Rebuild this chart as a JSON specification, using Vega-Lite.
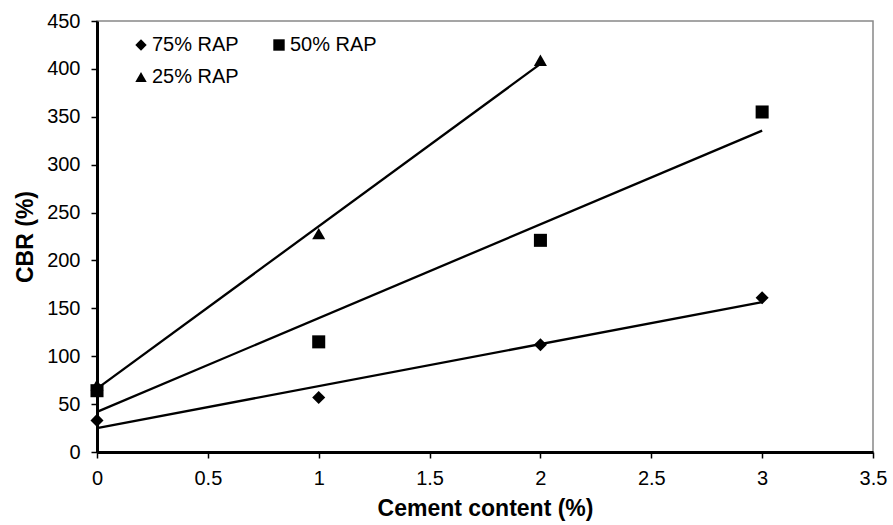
{
  "$schema": "https://vega.github.io/schema/vega-lite/v6.json",
  "width": 776,
  "height": 431,
  "autosize": "none",
  "padding": {"left": 97, "top": 21, "right": 20, "bottom": 73},
  "background": "white",
  "config": {
    "font": "Liberation Sans",
    "view": {"stroke": "#888888", "strokeWidth": 1.5},
    "axis": {"grid": false, "domainColor": "black", "tickColor": "black", "labelColor": "black", "titleColor": "black"}
  },
  "data": {
    "values": [
      {"mix": "75% RAP", "cement": 0, "CBR": 33},
      {"mix": "75% RAP", "cement": 1, "CBR": 57},
      {"mix": "75% RAP", "cement": 2, "CBR": 112},
      {"mix": "75% RAP", "cement": 3, "CBR": 161},
      {"mix": "25% RAP", "cement": 0, "CBR": 70},
      {"mix": "25% RAP", "cement": 1, "CBR": 228},
      {"mix": "25% RAP", "cement": 2, "CBR": 409},
      {"mix": "50% RAP", "cement": 0, "CBR": 64},
      {"mix": "50% RAP", "cement": 1, "CBR": 115},
      {"mix": "50% RAP", "cement": 2, "CBR": 221},
      {"mix": "50% RAP", "cement": 3, "CBR": 355}
    ]
  },
  "encoding": {
    "x": {
      "field": "cement", "type": "quantitative",
      "scale": {"domain": [0, 3.5], "nice": false, "zero": true},
      "axis": {"values": [0, 0.5, 1, 1.5, 2, 2.5, 3, 3.5], "format": "~g", "title": "Cement content (%)", "titleFontSize": 23, "titleFontWeight": "bold", "titlePadding": 9, "labelFontSize": 20, "labelPadding": 10, "tickSize": 6, "tickWidth": 1.5, "domainWidth": 3, "labelFlush": false}
    },
    "y": {
      "field": "CBR", "type": "quantitative",
      "scale": {"domain": [0, 450], "nice": false},
      "axis": {"values": [0, 50, 100, 150, 200, 250, 300, 350, 400, 450], "title": "CBR (%)", "titleFontSize": 23, "titleFontWeight": "bold", "titlePadding": 9, "labelFontSize": 20, "labelPadding": 11, "tickSize": 6, "tickWidth": 1.5, "domainWidth": 3}
    }
  },
  "layer": [
    {
      "transform": [
        {"regression": "CBR", "on": "cement", "groupby": ["mix"]}
      ],
      "mark": {"type": "line", "color": "black", "strokeWidth": 2.3},
      "encoding": {
        "detail": {"field": "mix", "type": "nominal"}
      }
    },
    {
      "mark": {"type": "point", "filled": true, "opacity": 1, "size": 170},
      "encoding": {
        "shape": {
          "field": "mix", "type": "nominal",
          "scale": {"domain": ["75% RAP", "50% RAP", "25% RAP"], "range": ["diamond", "square", "triangle-up"]},
          "legend": {"title": null, "orient": "none", "legendX": 34, "legendY": 14, "columns": 2, "columnPadding": 30, "rowPadding": 12, "labelFontSize": 20, "labelOffset": 1, "symbolSize": 130, "symbolFillColor": "black", "symbolStrokeColor": "black", "direction": "horizontal", "labelLimit": 200}
        },
        "color": {"value": "black"}
      }
    }
  ]
}
